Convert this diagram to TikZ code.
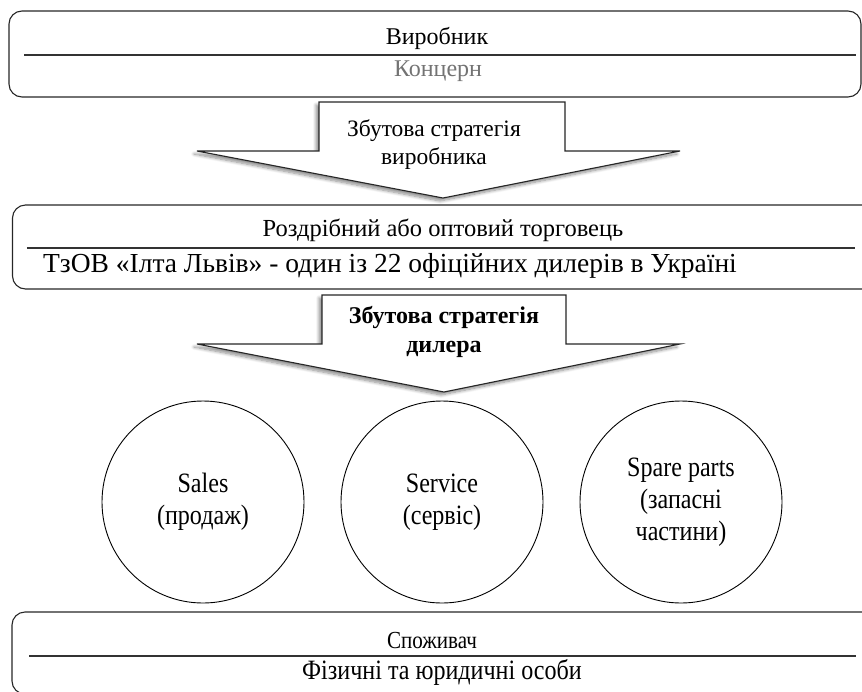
\documentclass[tikz,border=0pt]{standalone}
\usepackage{fontspec}
\setmainfont{Liberation Serif}
\newfontfamily\narrowserif[FakeStretch=0.86]{Liberation Serif}
\usepackage{xcolor}
\definecolor{subgray}{gray}{0.45}
\usetikzlibrary{shadows.blur}

\begin{document}
\begin{tikzpicture}[x=1pt, y=-1pt,
	ebene/.style={rectangle, draw=black!85, line width=1.1pt, rounded corners=13pt, inner sep=0pt},
	titel/.style={inner sep=0pt, align=center, font=\fontsize{24}{28}\selectfont},
	trenn/.style={draw=black!80, line width=1.8pt},
	pfeil/.style={draw=black!85, line width=1.1pt, fill=white,
	              blur shadow={shadow xshift=-3pt, shadow yshift=-3pt, shadow blur radius=3pt,
	                           shadow blur steps=8, shadow opacity=45}},
	kreis/.style={circle, draw=black, line width=0.9pt, minimum size=202pt, inner sep=0pt, align=center,
	              font=\narrowserif\fontsize{28}{32}\selectfont},
	kunde/.style={inner sep=0pt, align=center, font=\narrowserif\fontsize{24.5}{28}\selectfont}
	]
\useasboundingbox (0,0) rectangle (862,691);

% Ebenen
\node[ebene, minimum width=852pt, minimum height=86pt] (hersteller) at (435,54) {};
\node[titel] (hname) at (437,38) {Виробник};
\node[titel, text=subgray] (hsub) at (438,71) {Концерн};
\draw[trenn] ([xshift=16pt, yshift=-1pt]hersteller.west) -- ([xshift=-6pt, yshift=-1pt]hersteller.east);

\node[ebene, minimum width=867pt, minimum height=84pt] (haendler) at (446,247) {};
\node[titel, font=\fontsize{24.5}{28}\selectfont] (dname) at (443,230) {Роздрібний або оптовий торговець};
\node[titel, font=\fontsize{27.5}{28}\selectfont] (dsub) at (390,266) {ТзОВ «Ілта Львів» - один із 22 офіційних дилерів в Україні};
\draw[trenn] ([xshift=15pt, yshift=-1pt]haendler.west) -- ([xshift=-25pt, yshift=-1pt]haendler.east);

\node[ebene, minimum width=868pt, minimum height=82pt] (verbraucher) at (446,653) {};
\node[kunde] (vname) at (432,640) {Споживач};
\node[kunde, font=\narrowserif\fontsize{28}{30}\selectfont] (vsub) at (442,672) {Фізичні та юридичні особи};
\draw[trenn] ([xshift=18pt, yshift=-3pt]verbraucher.west) -- ([xshift=-25pt, yshift=-3pt]verbraucher.east);

% Strategien
\filldraw[pfeil] (319,102) -- (565,102) -- (565,151) -- (680,151) -- (443,198) -- (197,151) -- (319,151) -- cycle;
\node[titel, font=\fontsize{23.5}{28}\selectfont] (strat1) at (434,145) {Збутова стратегія\\виробника};

\filldraw[pfeil] (322,295) -- (566,295) -- (566,344) -- (680,344) -- (444,392) -- (197,344) -- (322,344) -- cycle;
\node[titel, font=\fontsize{24}{29}\selectfont\bfseries] (strat2) at (444,332) {Збутова стратегія\\дилера};

% Bereiche
\node[kreis] (sales) at (203,502) {Sales\\(продаж)};
\node[kreis] (service) at (442,502) {Service\\(сервіс)};
\node[kreis] (parts) at (681,502) {Spare parts\\(запасні\\частини)};
\end{tikzpicture}
\end{document}
